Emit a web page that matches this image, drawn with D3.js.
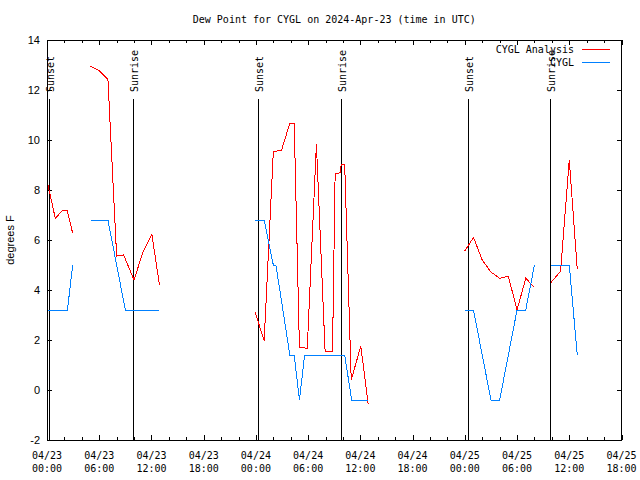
<!DOCTYPE html>
<html>
<head>
<meta charset="utf-8">
<script src="https://cdn.jsdelivr.net/npm/d3@7"></script>
<style>
  html, body { margin: 0; padding: 0; background: #fff; }
  svg { display: block; }
</style>
</head>
<body>
<svg id="chart" width="640" height="480"></svg>
<script>
// ---------------- data ----------------
const titleText = "Dew Point for CYGL on 2024-Apr-23 (time in UTC)";
const yLabel = "degrees F";
const seriesNames = ["CYGL Analysis", "CYGL"];
const seriesColors = ["#ff0000", "#0080ff"];

// CYGL Analysis (null = gap)
const analysisTimes = [
  "2024-04-23 00:04", "2024-04-23 00:57", "2024-04-23 01:51", "2024-04-23 02:18", "2024-04-23 02:57", null,
  "2024-04-23 05:00", "2024-04-23 06:00", "2024-04-23 07:00", "2024-04-23 08:00", "2024-04-23 08:48",
  "2024-04-23 10:00", "2024-04-23 11:00", "2024-04-23 12:03", "2024-04-23 12:55", null,
  "2024-04-23 23:54", "2024-04-24 00:57", "2024-04-24 02:00", "2024-04-24 02:57", "2024-04-24 03:54",
  "2024-04-24 04:24", "2024-04-24 05:00", "2024-04-24 05:54", "2024-04-24 06:57", "2024-04-24 07:57",
  "2024-04-24 08:48", "2024-04-24 09:06", "2024-04-24 09:42", "2024-04-24 09:48", "2024-04-24 10:12",
  "2024-04-24 10:57", "2024-04-24 12:03", "2024-04-24 12:54", null,
  "2024-04-25 00:00", "2024-04-25 01:00", "2024-04-25 02:00", "2024-04-25 03:00", "2024-04-25 04:00",
  "2024-04-25 05:00", "2024-04-25 06:00", "2024-04-25 07:00", "2024-04-25 08:00", null,
  "2024-04-25 09:54", "2024-04-25 11:00", "2024-04-25 12:00", "2024-04-25 12:55"
];
const analysisValues = [
  8.27, 6.87, 7.2, 7.2, 6.27, null,
  12.95, 12.77, 12.43, 5.36, 5.4, 4.4, 5.5, 6.23, 4.2, null,
  3.12, 1.97, 9.53, 9.6, 10.67, 10.67, 1.7, 1.67, 9.84, 1.53,
  1.53, 8.64, 8.7, 9.04, 9.04, 0.4, 1.76, -0.56, null,
  5.57, 6.1, 5.2, 4.72, 4.47, 4.55, 3.2, 4.47, 4.1, null,
  4.3, 4.75, 9.2, 4.83
];

// CYGL observations (null = gap)
const obsTimes = [
  "2024-04-23 00:00", "2024-04-23 02:21", "2024-04-23 02:57", null,
  "2024-04-23 05:00", "2024-04-23 07:00", "2024-04-23 08:00", "2024-04-23 09:00", "2024-04-23 12:55", null,
  "2024-04-23 23:54", "2024-04-24 00:57", "2024-04-24 02:00", "2024-04-24 02:18", "2024-04-24 03:54",
  "2024-04-24 04:24", "2024-04-24 05:00", "2024-04-24 05:36", "2024-04-24 10:12", "2024-04-24 11:00",
  "2024-04-24 12:54", null,
  "2024-04-25 00:00", "2024-04-25 01:00", "2024-04-25 03:00", "2024-04-25 04:00", "2024-04-25 06:00",
  "2024-04-25 07:00", "2024-04-25 08:00", null,
  "2024-04-25 09:54", "2024-04-25 12:00", "2024-04-25 12:55"
];
const obsValues = [
  3.2, 3.2, 5.0, null,
  6.8, 6.8, 5.0, 3.2, 3.2, null,
  6.8, 6.8, 5.0, 5.0, 1.4, 1.4, -0.4, 1.4, 1.4, -0.4, -0.4, null,
  3.2, 3.2, -0.4, -0.4, 3.2, 3.2, 5.0, null,
  5.0, 5.0, 1.4
];

const sunEventTimes = [
  "2024-04-23 00:18", "2024-04-23 09:56", "2024-04-24 00:20",
  "2024-04-24 09:50", "2024-04-25 00:23", "2024-04-25 09:48"
];
const sunEventLabels = ["Sunset", "Sunrise", "Sunset", "Sunrise", "Sunset", "Sunrise"];

const xDomain = ["2024-04-23 00:00", "2024-04-25 18:00"];
const yDomain = [-2, 14];
const yTicks = [-2, 0, 2, 4, 6, 8, 10, 12, 14];

// ---------------- drawing ----------------
const parse = d3.utcParse("%Y-%m-%d %H:%M");
const svg = d3.select("#chart");
const L = 47, R = 621.5, T = 40, B = 440;

const x = d3.scaleUtc().domain(xDomain.map(parse)).range([L, R]);
const y = d3.scaleLinear().domain(yDomain).range([B, T]);

const mono = "'DejaVu Sans Mono', monospace";
const sans = "'Liberation Sans', Arial, sans-serif";

function toPoints(times, values) {
  return times.map((t, i) => (t === null || values[i] === null) ? null : { t: parse(t), v: values[i] });
}
const series = [toPoints(analysisTimes, analysisValues), toPoints(obsTimes, obsValues)];

// ticks
const majorTicks = d3.utcHour.every(6).range(x.domain()[0], d3.utcHour.offset(x.domain()[1], 1));
const minorTicks = d3.utcHour.every(2).range(x.domain()[0], x.domain()[1]).filter(d => d.getUTCHours() % 6 !== 0);

const axisG = svg.append("g").attr("shape-rendering", "crispEdges").attr("stroke", "#000").attr("stroke-width", 1);
majorTicks.forEach(d => {
  const px = Math.round(x(d)) + 0.5;
  axisG.append("line").attr("x1", px).attr("x2", px).attr("y1", B).attr("y2", B - 5);
  axisG.append("line").attr("x1", px).attr("x2", px).attr("y1", T).attr("y2", T + 5);
});
minorTicks.forEach(d => {
  const px = Math.round(x(d)) + 0.5;
  axisG.append("line").attr("x1", px).attr("x2", px).attr("y1", B).attr("y2", B - 3);
  axisG.append("line").attr("x1", px).attr("x2", px).attr("y1", T).attr("y2", T + 3);
});
yTicks.forEach(v => {
  const py = Math.round(y(v)) + 0.5;
  axisG.append("line").attr("x1", L).attr("x2", L + 5).attr("y1", py).attr("y2", py);
  axisG.append("line").attr("x1", R).attr("x2", R - 5).attr("y1", py).attr("y2", py);
});

// y tick labels
svg.append("g").selectAll("text").data(yTicks).join("text")
  .attr("x", 40).attr("y", d => y(d) + 4)
  .attr("text-anchor", "end")
  .attr("font-family", sans).attr("font-size", 11)
  .text(d => d);

// x tick labels
const fmtDate = d3.utcFormat("%m/%d"), fmtTime = d3.utcFormat("%H:%M");
const xl = svg.append("g").attr("font-family", mono).attr("font-size", 10).attr("text-anchor", "middle");
majorTicks.forEach(d => {
  xl.append("text").attr("x", x(d)).attr("y", 459).text(fmtDate(d));
  xl.append("text").attr("x", x(d)).attr("y", 472).text(fmtTime(d));
});

// sun lines
const sunG = svg.append("g");
sunEventTimes.forEach((t, i) => {
  const px = Math.floor(x(parse(t))) + 0.5;
  sunG.append("line").attr("x1", px).attr("x2", px).attr("y1", 99).attr("y2", B)
    .attr("stroke", "#000").attr("stroke-width", 1).attr("shape-rendering", "crispEdges");
  sunG.append("text")
    .attr("transform", `translate(${px + 4.5},92) rotate(-90)`)
    .attr("font-family", mono).attr("font-size", 10)
    .text(sunEventLabels[i]);
});

// data lines
const line = d3.line().defined(d => d !== null).x(d => x(d.t)).y(d => y(d.v));
series.forEach((s, i) => {
  svg.append("path").datum(s)
    .attr("d", line)
    .attr("fill", "none")
    .attr("stroke", seriesColors[i])
    .attr("stroke-width", 1)
    .attr("shape-rendering", "crispEdges");
});

// frame
svg.append("rect").attr("x", L + 0.5).attr("y", T + 0.5).attr("width", R - L - 1).attr("height", B - T)
  .attr("fill", "none").attr("stroke", "#000").attr("stroke-width", 1).attr("shape-rendering", "crispEdges");

// title
svg.append("text").attr("x", (L + R) / 2).attr("y", 23).attr("text-anchor", "middle")
  .attr("font-family", mono).attr("font-size", 10).text(titleText);

// y label
svg.append("text").attr("transform", "translate(14,240) rotate(-90)")
  .attr("text-anchor", "middle").attr("font-family", sans).attr("font-size", 11).text(yLabel);

// legend
const lg = svg.append("g");
seriesNames.forEach((n, i) => {
  const ly = 49.5 + i * 13;
  lg.append("text").attr("x", 574).attr("y", ly + 3.5).attr("text-anchor", "end")
    .attr("font-family", mono).attr("font-size", 10).text(n);
  lg.append("line").attr("x1", 582).attr("x2", 610).attr("y1", ly).attr("y2", ly)
    .attr("stroke", seriesColors[i]).attr("stroke-width", 1).attr("shape-rendering", "crispEdges");
});
</script>
</body>
</html>
